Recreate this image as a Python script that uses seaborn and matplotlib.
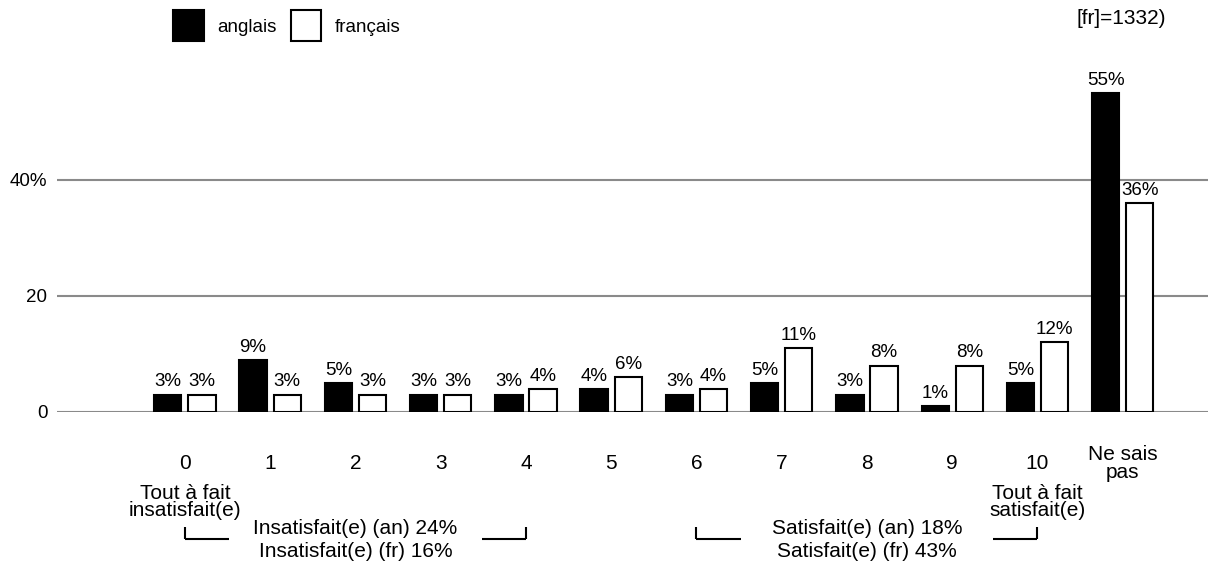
import matplotlib
matplotlib.use("Agg")
import matplotlib.pyplot as plt
import matplotlib.transforms as mtrans
from matplotlib.patches import Patch
import seaborn as sns
import pandas as pd

categories = ["0", "1", "2", "3", "4", "5", "6", "7", "8", "9", "10", "Ne sais\npas"]
anglais = [3, 9, 5, 3, 3, 4, 3, 5, 3, 1, 5, 55]
francais = [3, 3, 3, 3, 4, 6, 4, 11, 8, 8, 12, 36]
series_names = ["anglais", "français"]
y_ticks = [0, 20, 40]
y_tick_labels = ["0", "20", "40%"]

sns.set_theme(style="white")
plt.rcParams["font.family"] = ["Liberation Sans", "DejaVu Sans"]
plt.rcParams["text.color"] = "black"
plt.rcParams["xtick.color"] = "black"
plt.rcParams["ytick.color"] = "black"
plt.rcParams["xtick.labelcolor"] = "black"
plt.rcParams["ytick.labelcolor"] = "black"

W, H = 1208, 566
fig = plt.figure(figsize=(W / 100, H / 100), dpi=100)
ax = fig.add_axes([57 / W, 1 - 412 / H, 1151 / W, 412 / H])

df = pd.DataFrame({
    "cat": categories * 2,
    "val": anglais + francais,
    "lang": [series_names[0]] * len(categories) + [series_names[1]] * len(categories),
})

sns.barplot(data=df, x="cat", y="val", hue="lang", order=categories,
            hue_order=series_names,
            palette={series_names[0]: "black", series_names[1]: "white"},
            edgecolor="black", linewidth=1.5, width=0.8, gap=0.2,
            legend=False, ax=ax, zorder=3)

for cont in ax.containers:
    ax.bar_label(cont, fmt="%d%%", padding=3, fontsize=13.5, color="black")

ax.set_xlim(-1.5, 12.0)
ax.set_ylim(0, 412 / 5.8)
for spine in ax.spines.values():
    spine.set_visible(False)

for yv in y_ticks:
    ax.axhline(yv, color="#8a8a8a", linewidth=1.5, zorder=1)
ax.set_yticks(y_ticks)
ax.set_yticklabels(y_tick_labels, fontsize=13.5, color="black")
ax.tick_params(axis="y", length=0, pad=7)
ax.tick_params(axis="x", length=0, pad=37, labelsize=15)
ax.set_xticks(range(len(categories)))
ax.set_xticklabels(categories, color="black")
for lbl in ax.get_xticklabels():
    lbl.set_va("center")
    lbl.set_linespacing(0.9)
ax.set_xlabel("")
ax.set_ylabel("")

# legend
handles = [Patch(facecolor="black", edgecolor="black", linewidth=1.5),
           Patch(facecolor="white", edgecolor="black", linewidth=1.5)]
leg = fig.legend(handles, series_names, loc="upper left",
                 bbox_to_anchor=(173 / W, 1 - 10 / H), bbox_transform=fig.transFigure,
                 ncol=2, frameon=False, fontsize=13.5, handlelength=1.65, handleheight=2.2,
                 handletextpad=0.7, columnspacing=0.75, borderpad=0, borderaxespad=0)
for t in leg.get_texts():
    t.set_color("black")

# top-right note (partially cut in the reference)
fig.text(1166 / W, 1 - 18 / H, "[fr]=1332)", ha="right", va="center", fontsize=15,
         color="black")

# bottom annotations
bt = mtrans.blended_transform_factory(ax.transData, fig.transFigure)
def fy(p):
    return 1 - p / H

ax.text(0, fy(502), "Tout à fait\ninsatisfait(e)", transform=bt, ha="center",
        va="center", fontsize=15, linespacing=0.85, color="black")
ax.text(10, fy(502), "Tout à fait\nsatisfait(e)", transform=bt, ha="center",
        va="center", fontsize=15, linespacing=0.85, color="black")

ax.text(2.0, fy(540), "Insatisfait(e) (an) 24%\nInsatisfait(e) (fr) 16%", transform=bt,
        ha="center", va="center", fontsize=15, linespacing=1.25, color="black")
ax.text(8.0, fy(540), "Satisfait(e) (an) 18%\nSatisfait(e) (fr) 43%", transform=bt,
        ha="center", va="center", fontsize=15, linespacing=1.25, color="black")

def bracket(x0, x1, tick_at):
    ax.plot([x0, x1], [fy(539), fy(539)], transform=bt, color="black", lw=1.5,
            clip_on=False, solid_capstyle="butt")
    ax.plot([tick_at, tick_at], [fy(527), fy(539)], transform=bt, color="black",
            lw=1.5, clip_on=False, solid_capstyle="butt")

bracket(0, 0.52, 0)
bracket(3.48, 4, 4)
bracket(6, 6.52, 6)
bracket(9.48, 10, 10)

fig.savefig("out.png", dpi=100)
